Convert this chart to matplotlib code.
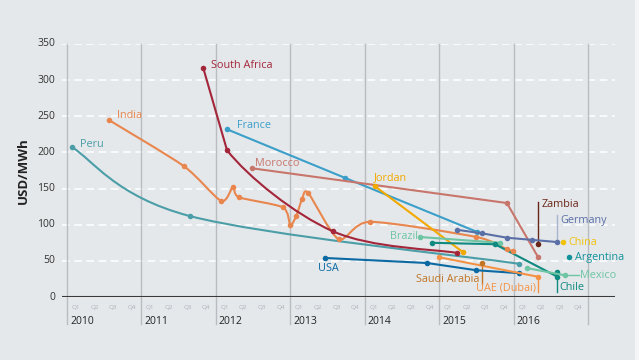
import numpy as np
import matplotlib
matplotlib.use("Agg")
import matplotlib.pyplot as plt
from matplotlib.path import Path
from matplotlib.patches import PathPatch, Rectangle

plt.rcParams['font.family'] = ['Open Sans', 'DejaVu Sans']

# ---------------- data (x in fractional years, y in USD/MWh) ----------------
peru_x = [2010.07, 2011.65, 2016.07]
peru_y = [207, 112, 46]

india_x = [2010.56, 2011.57, 2012.07, 2012.23, 2012.31, 2012.90, 2013.00, 2013.08,
           2013.16, 2013.24, 2013.65, 2014.07, 2015.50, 2015.91, 2015.99]
india_y = [245, 181, 133, 152, 138, 124, 100, 112, 136, 144, 80, 104, 83, 66, 64]

safrica_x = [2011.83, 2012.15, 2013.57, 2015.24]
safrica_y = [317, 203, 91, 61]

france_x = [2012.15, 2013.73, 2015.51]
france_y = [232, 165, 90]

morocco_x = [2012.49, 2015.91, 2016.33]
morocco_y = [178, 130, 55]

jordan_x = [2014.14, 2015.32]
jordan_y = [153, 62]

usa_x = [2013.47, 2014.84, 2015.50, 2016.07]
usa_y = [54, 47, 37, 33]

uae_x = [2015.00, 2016.33]
uae_y = [55, 28]

saudi_x = [2015.58]
saudi_y = [47]

brazil_x = [2014.74, 2015.82]
brazil_y = [83, 75]

chile_x = [2014.90, 2015.75, 2016.59]
chile_y = [75, 73, 28]
chile_extra_x = [2016.59]
chile_extra_y = [35]

germany_x = [2015.24, 2015.58, 2015.91, 2016.25, 2016.59]
germany_y = [93, 88, 82, 79, 76]

zambia_x = [2016.33]
zambia_y = [73]

china_x = [2016.66]
china_y = [76]

argentina_x = [2016.74]
argentina_y = [55]

mexico_x = [2016.18, 2016.69]
mexico_y = [40, 30]

years = [2010, 2011, 2012, 2013, 2014, 2015, 2016]
quarters = ["Q1", "Q2", "Q3", "Q4"]
yticks = [0, 50, 100, 150, 200, 250, 300, 350]

# ---------------- figure ----------------
W, H, DPI = 639, 360, 100
BG = '#e5e8eb'
fig = plt.figure(figsize=(W / DPI, H / DPI), dpi=DPI, facecolor=BG)
L, R, B, T = 62, 615, 297, 44
ax = fig.add_axes([L / W, 1 - B / H, (R - L) / W, (B - T) / H])
ax.set_facecolor(BG)
px_per_year = 74.43
ax.set_xlim(2010 - 5 / px_per_year, 2010 + (R - 67) / px_per_year)
ax.set_ylim(0, 350)
for s in ax.spines.values():
    s.set_visible(False)
ax.set_xticks([])
ax.set_yticks([])
ppu = (B - T) / 350.0  # pixels per USD/MWh


def py(px):
    return px / ppu  # pixel height -> data units


def pxy(px):
    return px / px_per_year


# light strip at right edge
fig.patches.append(Rectangle((635 / W, 0), 4 / W, 1, transform=fig.transFigure,
                             facecolor='#f4f5f6', edgecolor='none', zorder=0))

# gridlines
for v in yticks[1:]:
    ax.axhline(v, color='white', lw=1.1, dashes=(5, 3), zorder=1)
    ax.text(2010 - pxy(12), v, str(v), ha='right', va='center', fontsize=7.5, color='#333333')
ax.text(2010 - pxy(12), 0, "0", ha='right', va='center', fontsize=7.5, color='#333333')
ax.axhline(0, color='#3a3a3a', lw=1.5, zorder=3)

# vertical year lines
for yr in years + [2017]:
    ax.plot([yr, yr], [-py(27), 350], color='#b9bdc1', lw=1.0, clip_on=False, zorder=1)
for yr in years:
    for k, q in enumerate(quarters):
        ax.text(yr + 0.12 + 0.25 * k, -py(11), q, ha='center', va='center',
                fontsize=4.6, color='#b0b5ba')
    ax.text(yr + pxy(3), -py(24), str(yr), ha='left', va='center', fontsize=7.5, color='#222222')

ax.text(-0.0705, 0.5, "USD/MWh", rotation=90, transform=ax.transAxes, ha='center',
        va='center', fontsize=9.5, fontweight='bold', color='#222222')


# ---------------- drawing helpers ----------------
def smooth(xs, ys, color, lw=1.5, z=4, k=1 / 6.0, straight_first=False):
    P = np.column_stack([xs, ys]).astype(float)
    n = len(P)
    verts = [P[0]]
    codes = [Path.MOVETO]
    for i in range(n - 1):
        p0 = P[i - 1] if i > 0 else P[i]
        p1, p2 = P[i], P[i + 1]
        p3 = P[i + 2] if i + 2 < n else P[i + 1]
        if straight_first and i == 0:
            verts += [p2]
            codes += [Path.LINETO]
            continue
        b1 = p1 + (p2 - p0) * k
        b2 = p2 - (p3 - p1) * k
        verts += [b1, b2, p2]
        codes += [Path.CURVE4] * 3
    ax.add_patch(PathPatch(Path(verts, codes), facecolor='none', edgecolor=color,
                           lw=lw, zorder=z, capstyle='round', joinstyle='round'))
    ax.plot(xs, ys, 'o', color=color, ms=4, zorder=z + 0.5, mec='none')


def straight(xs, ys, color, lw=1.5, z=4):
    ax.plot(xs, ys, '-o', color=color, lw=lw, ms=4, zorder=z, mec='none',
            solid_capstyle='round')


def label(txt, x, y, dx, dy, color, ha='left'):
    ax.annotate(txt, (x, y), xytext=(dx * 0.72, dy * 0.72), textcoords='offset points',
                ha=ha, va='center', fontsize=7.8, color=color, zorder=8)


def vleader(x, y, dpx, color):
    ax.plot([x, x], [y, y + py(dpx)], color=color, lw=1.0, zorder=3)


# colours
C = dict(peru='#4b9ea7', india='#e8864d', sa='#a3263a', france='#3b9fc9',
         morocco='#c8766c', jordan='#f2a900', brazil='#6dc5a3', usa='#0b6aa3',
         uae='#f39245', saudi='#c07526', chile='#0f8a80', germany='#5a6fa6',
         zambia='#6a2519', china='#f0c20e', argentina='#14929b', mexico='#6dc5a3')

smooth(peru_x, peru_y, C['peru'])
smooth(india_x, india_y, C['india'], k=1 / 8.0)
smooth(safrica_x, safrica_y, C['sa'], straight_first=True)
straight(france_x, france_y, C['france'])
straight(morocco_x, morocco_y, C['morocco'])
straight(jordan_x, jordan_y, C['jordan'])
straight(usa_x, usa_y, C['usa'])
straight(uae_x, uae_y, C['uae'])
straight(saudi_x, saudi_y, C['saudi'])
straight(brazil_x, brazil_y, C['brazil'])
straight(chile_x, chile_y, C['chile'])
straight(chile_extra_x, chile_extra_y, C['chile'])
straight(germany_x, germany_y, C['germany'])
straight(zambia_x, zambia_y, C['zambia'], z=6)
straight(china_x, china_y, C['china'])
straight(argentina_x, argentina_y, C['argentina'])
straight(mexico_x, mexico_y, C['mexico'])

# leaders
vleader(saudi_x[0], saudi_y[0], -21, C['saudi'])
vleader(uae_x[-1], uae_y[-1], -15, C['uae'])
vleader(chile_x[-1], chile_y[-1], -15, C['chile'])
vleader(germany_x[-1], germany_y[-1], 27, '#a9b3cf')
vleader(zambia_x[0], zambia_y[0], 42, C['zambia'])
ax.plot([mexico_x[-1], mexico_x[-1] + pxy(14)], [mexico_y[-1]] * 2, color=C['mexico'], lw=1.0, zorder=3)

# labels
label("Peru", peru_x[0], peru_y[0], 8, 3, C['peru'])
label("India", india_x[0], india_y[0], 8, 4, C['india'])
label("South Africa", safrica_x[0], safrica_y[0], 8, 2, C['sa'])
label("France", france_x[0], france_y[0], 10, 4, C['france'])
label("Morocco", morocco_x[0], morocco_y[0], 3, 5, C['morocco'])
label("Jordan", jordan_x[0], jordan_y[0], -1, 9, C['jordan'])
label("Brazil", brazil_x[0], brazil_y[0], -2, 1, C['brazil'], ha='right')
label("USA", usa_x[0], usa_y[0], 3, -11, C['usa'], ha='center')
label("Saudi Arabia", saudi_x[0], saudi_y[0], -3, -16, C['saudi'], ha='right')
label("UAE (Dubai)", uae_x[-1], uae_y[-1], -2, -11, C['uae'], ha='right')
label("Chile", chile_x[-1], chile_y[-1], 2, -11, C['chile'])
label("Mexico", mexico_x[-1], mexico_y[-1], 15, 0, C['mexico'])
label("Argentina", argentina_x[0], argentina_y[0], 6, 0, C['argentina'])
label("China", china_x[0], china_y[0], 6, 0, C['china'])
label("Germany", germany_x[-1], germany_y[-1], 3, 22, C['germany'])
label("Zambia", zambia_x[0], zambia_y[0], 3, 40, C['zambia'])

fig.savefig("out.png", dpi=DPI, facecolor=BG)
